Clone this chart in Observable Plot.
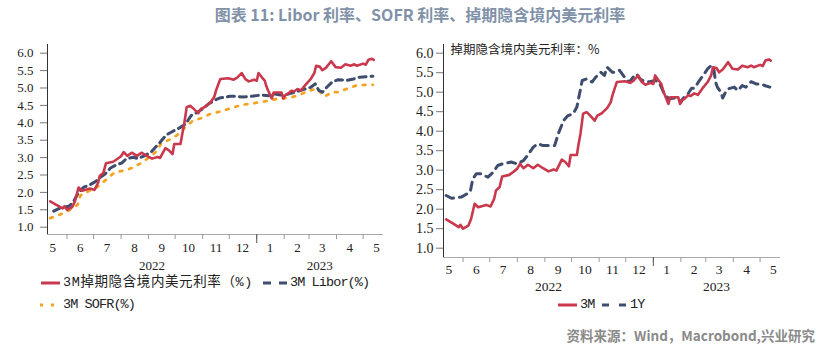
<!DOCTYPE html>
<html><head><meta charset="utf-8">
<script src="https://cdn.jsdelivr.net/npm/d3@7"></script>
<script src="https://cdn.jsdelivr.net/npm/@observablehq/plot@0.6"></script>
<style>
body{margin:0;background:#fff;}
#root{position:relative;width:820px;height:355px;overflow:hidden;font-family:"Noto Sans CJK SC",sans-serif;background:#fff;}
.abs{position:absolute;white-space:nowrap;}
.leg{font-family:"Liberation Mono","Noto Sans CJK SC",monospace;font-size:13.5px;color:#222;line-height:20px;letter-spacing:-0.9px;}
#left,#right{position:absolute;top:0;}
#left{left:0;} #right{left:400px;}
</style></head><body><div id="root">
<div id="left"></div><div id="right"></div>
<div class="abs" style="left:10px;width:820px;top:4px;text-align:center;font-size:16px;line-height:20px;font-weight:bold;color:#8091a8;">图表 11: Libor 利率、SOFR 利率、掉期隐含境内美元利率</div>
<svg class="abs" style="left:0;top:270px" width="400" height="50">
  <line x1="41" x2="60" y1="13" y2="13" stroke="#c9384c" stroke-width="3"/>
  <line x1="263" x2="288" y1="13" y2="13" stroke="#3e4c6d" stroke-width="3" stroke-dasharray="8 8"/>
  <line x1="40" x2="54" y1="35" y2="35" stroke="#f5a21e" stroke-width="3" stroke-dasharray="3 8"/>
</svg>
<div class="abs leg" style="left:63px;top:273px;letter-spacing:0.6px;">3M掉期隐含境内美元利率（%)</div>
<div class="abs leg" style="left:290px;top:273px;">3M Libor(%)</div>
<div class="abs leg" style="left:63px;top:295px;">3M SOFR(%)</div>
<svg class="abs" style="left:550px;top:295px" width="100" height="20">
  <line x1="8" x2="27" y1="10" y2="10" stroke="#c9384c" stroke-width="3"/>
  <line x1="52" x2="78" y1="10" y2="10" stroke="#3e4c6d" stroke-width="3" stroke-dasharray="7 10"/>
</svg>
<div class="abs leg" style="left:580px;top:295px;">3M</div>
<div class="abs leg" style="left:630px;top:295px;">1Y</div>
<div class="abs" style="right:5px;top:325px;font-size:13.5px;line-height:20px;color:#8a8a8a;font-weight:bold;">资料来源：Wind，Macrobond,兴业研究</div>
</div>
<script>
// ---------- data ----------
const swapDates = ["2022-05-13","2022-05-21","2022-05-27","2022-05-29","2022-06-01","2022-06-07","2022-06-10","2022-06-14","2022-06-18","2022-06-27","2022-07-02","2022-07-06","2022-07-08","2022-07-12","2022-07-15","2022-07-23","2022-07-26","2022-08-01","2022-08-04","2022-08-08","2022-08-13","2022-08-19","2022-08-24","2022-08-30","2022-09-05","2022-09-11","2022-09-14","2022-09-20","2022-09-24","2022-09-28","2022-09-30","2022-10-07","2022-10-09","2022-10-11","2022-10-14","2022-10-18","2022-10-22","2022-10-27","2022-10-30","2022-11-04","2022-11-10","2022-11-14","2022-11-16","2022-11-19","2022-11-21","2022-11-30","2022-12-06","2022-12-10","2022-12-15","2022-12-19","2022-12-23","2022-12-29","2023-01-01","2023-01-03","2023-01-07","2023-01-10","2023-01-12","2023-01-14","2023-01-18","2023-01-20","2023-01-29","2023-01-31","2023-02-02","2023-02-05","2023-02-09","2023-02-12","2023-02-16","2023-02-20","2023-02-25","2023-03-03","2023-03-07","2023-03-09","2023-03-13","2023-03-16","2023-03-20","2023-03-26","2023-03-31","2023-04-06","2023-04-11","2023-04-17","2023-04-21","2023-04-24","2023-05-01","2023-05-04","2023-05-07","2023-05-11","2023-05-13"];
const swap3M = [1.74,1.63,1.54,1.60,1.50,1.58,1.75,2.14,2.05,2.11,2.07,2.27,2.48,2.56,2.84,2.88,2.93,3.04,3.16,3.05,3.14,3.05,3.14,3.05,2.97,3.02,2.99,3.27,3.21,3.10,3.39,3.39,3.68,3.93,4.45,4.49,4.40,4.27,4.40,4.46,4.59,4.74,4.92,5.13,5.26,5.28,5.24,5.30,5.43,5.26,5.19,5.24,5.21,5.43,5.30,5.21,5.04,4.92,4.70,4.87,4.87,4.70,4.79,4.83,4.92,4.90,4.97,4.93,5.09,5.26,5.43,5.64,5.62,5.51,5.58,5.77,5.60,5.58,5.68,5.64,5.68,5.64,5.70,5.67,5.81,5.84,5.81];

const liborDates = ["2022-05-17","2022-05-24","2022-06-03","2022-06-08","2022-06-14","2022-06-20","2022-06-27","2022-07-03","2022-07-09","2022-07-14","2022-07-20","2022-07-25","2022-08-02","2022-08-07","2022-08-15","2022-08-20","2022-08-28","2022-09-04","2022-09-14","2022-09-21","2022-09-28","2022-10-07","2022-10-13","2022-10-19","2022-10-26","2022-11-01","2022-11-08","2022-11-14","2022-11-20","2022-12-02","2022-12-07","2022-12-16","2022-12-26","2023-01-06","2023-01-15","2023-01-21","2023-01-28","2023-02-06","2023-02-16","2023-02-23","2023-03-03","2023-03-08","2023-03-12","2023-03-16","2023-03-21","2023-03-27","2023-04-03","2023-04-13","2023-04-20","2023-04-27","2023-05-06","2023-05-12"];
const libor3M = [1.46,1.55,1.60,1.72,2.00,2.15,2.22,2.31,2.44,2.53,2.70,2.77,2.85,2.97,3.01,2.97,3.06,3.16,3.44,3.65,3.75,3.87,3.97,4.21,4.30,4.40,4.55,4.64,4.71,4.76,4.76,4.74,4.76,4.80,4.78,4.83,4.80,4.83,4.90,4.96,5.02,5.12,4.93,4.88,5.02,5.17,5.24,5.22,5.26,5.31,5.33,5.34];

const sofrDates = ["2022-05-13","2022-05-24","2022-06-03","2022-06-13","2022-06-16","2022-06-25","2022-07-05","2022-07-14","2022-07-25","2022-08-06","2022-08-15","2022-08-24","2022-09-03","2022-09-10","2022-09-15","2022-09-25","2022-10-03","2022-10-11","2022-10-20","2022-10-30","2022-11-10","2022-11-20","2022-12-03","2022-12-13","2022-12-24","2023-01-05","2023-01-15","2023-01-25","2023-02-06","2023-02-16","2023-02-27","2023-03-10","2023-03-17","2023-03-19","2023-03-27","2023-04-03","2023-04-13","2023-04-23","2023-05-03","2023-05-12"];
const sofr3M = [1.26,1.36,1.48,1.64,1.91,2.03,2.15,2.34,2.58,2.63,2.72,2.85,3.03,3.18,3.40,3.52,3.64,3.84,4.04,4.13,4.26,4.32,4.42,4.50,4.55,4.59,4.64,4.69,4.72,4.78,4.90,4.99,4.78,4.76,4.88,4.88,4.98,5.07,5.09,5.09];

const swap1YDates = ["2022-05-13","2022-05-19","2022-05-30","2022-06-09","2022-06-12","2022-06-16","2022-06-21","2022-06-29","2022-07-05","2022-07-10","2022-07-15","2022-07-25","2022-08-01","2022-08-08","2022-08-13","2022-08-19","2022-08-24","2022-08-30","2022-09-07","2022-09-12","2022-09-16","2022-09-22","2022-09-27","2022-10-03","2022-10-07","2022-10-10","2022-10-13","2022-10-18","2022-10-24","2022-10-28","2022-11-03","2022-11-07","2022-11-10","2022-11-16","2022-11-19","2022-11-24","2022-12-01","2022-12-05","2022-12-09","2022-12-13","2022-12-17","2022-12-23","2022-12-28","2023-01-03","2023-01-07","2023-01-10","2023-01-14","2023-01-19","2023-01-25","2023-01-29","2023-02-01","2023-02-03","2023-02-09","2023-02-13","2023-02-16","2023-02-21","2023-02-26","2023-03-03","2023-03-07","2023-03-10","2023-03-12","2023-03-14","2023-03-18","2023-03-20","2023-03-24","2023-03-27","2023-04-02","2023-04-06","2023-04-11","2023-04-15","2023-04-21","2023-04-27","2023-05-03","2023-05-06","2023-05-12"];
const swap1Y = [2.35,2.28,2.31,2.44,2.78,2.91,2.91,2.82,2.95,3.12,3.16,3.21,3.16,3.25,3.39,3.59,3.68,3.63,3.63,3.63,3.93,4.27,4.40,4.45,4.62,4.96,5.30,5.34,5.26,5.38,5.51,5.43,5.64,5.51,5.51,5.56,5.34,5.26,5.38,5.47,5.34,5.26,5.27,5.30,5.26,5.13,4.92,4.83,4.85,4.83,4.74,4.83,4.96,5.10,5.10,5.27,5.43,5.60,5.68,5.60,5.26,5.13,5.00,4.85,5.04,5.09,5.13,5.04,5.17,5.13,5.27,5.21,5.21,5.17,5.13];

const yTicks = [1.0,1.5,2.0,2.5,3.0,3.5,4.0,4.5,5.0,5.5,6.0];
const monthTickDates = ["2022-06-01","2022-07-01","2022-08-01","2022-09-01","2022-10-01","2022-11-01","2022-12-01","2023-01-01","2023-02-01","2023-03-01","2023-04-01","2023-05-01"];
const monthLabelDates = ["2022-05-16","2022-06-16","2022-07-16","2022-08-16","2022-09-16","2022-10-16","2022-11-16","2022-12-16","2023-01-16","2023-02-16","2023-03-16","2023-04-16","2023-05-16"];
const monthLabels = ["5","6","7","8","9","10","11","12","1","2","3","4","5"];
const yearBoundary = ["2023-01-01"];
const yearLabelDates = ["2022-09-05","2023-03-13"];
const yearLabels = ["2022","2023"];
const xDomainDates = ["2022-05-10","2023-05-24"];
const rightNote = "掉期隐含境内美元利率：%";

// ---------- build ----------
const parse = d3.utcParse("%Y-%m-%d");
const series = (ds, vs) => ds.map((d, i) => ({date: parse(d), value: vs[i]}));
const swapData = series(swapDates, swap3M);
const liborData = series(liborDates, libor3M);
const sofrData = series(sofrDates, sofr3M);
const y1Data = series(swap1YDates, swap1Y);
const xDomain = xDomainDates.map(parse);
const mLabelMap = new Map(monthLabelDates.map((d, i) => [+parse(d), monthLabels[i]]));
const yLabelMap = new Map(yearLabelDates.map((d, i) => [+parse(d), yearLabels[i]]));

const RED = "#c9384c", NAVY = "#3e4c6d", ORANGE = "#f5a21e";
const SERIF = "'Liberation Serif', 'Times New Roman', serif";

function xAxes(monthPad, yearPad, fs) {
  return [
    Plot.axisX({ticks: monthTickDates.map(parse), tickSize: 5, tickFormat: () => "", stroke: "#999", label: null}),
    Plot.axisX({ticks: yearBoundary.map(parse), tickSize: 9, tickFormat: () => "", stroke: "#555", label: null}),
    Plot.axisX({ticks: monthLabelDates.map(parse), tickSize: 0, tickPadding: monthPad, tickFormat: d => mLabelMap.get(+d), fill: "#222", fontSize: fs, fontFamily: SERIF, label: null}),
    Plot.axisX({ticks: yearLabelDates.map(parse), tickSize: 0, tickPadding: yearPad, tickFormat: d => yLabelMap.get(+d), fill: "#222", fontSize: fs, fontFamily: SERIF, label: null})
  ];
}

const left = Plot.plot({
  width: 400, height: 276,
  marginLeft: 47, marginRight: 17, marginTop: 44, marginBottom: 42,
  x: {type: "utc", domain: xDomain, axis: null},
  y: {domain: [0.79, 6.25], axis: null},
  style: {fontFamily: SERIF, fontSize: "13px", color: "#222", background: "transparent"},
  marks: [
    Plot.ruleY([0.79], {stroke: "#aaa"}),
    Plot.ruleX([xDomain[0]], {stroke: "#333"}),
    Plot.axisY({ticks: yTicks, tickSize: 7, tickPadding: 7, tickFormat: d => d.toFixed(1), stroke: "#777", fill: "#222", fontSize: 13, fontFamily: SERIF, label: null}),
    ...xAxes(8.5, 26.5, 13),
    Plot.line(sofrData, {x: "date", y: "value", stroke: ORANGE, strokeWidth: 2.7, strokeDasharray: "2.7 7"}),
    Plot.line(liborData, {x: "date", y: "value", stroke: NAVY, strokeWidth: 3, strokeDasharray: "7 5"}),
    Plot.line(swapData, {x: "date", y: "value", stroke: RED, strokeWidth: 2.6})
  ]
});
document.getElementById("left").appendChild(left);

const right = Plot.plot({
  width: 420, height: 295,
  marginLeft: 43, marginRight: 40, marginTop: 44, marginBottom: 38,
  x: {type: "utc", domain: xDomain, axis: null},
  y: {domain: [0.761, 6.223], axis: null},
  style: {fontFamily: SERIF, fontSize: "13px", color: "#222", background: "transparent"},
  marks: [
    Plot.ruleY([0.761], {stroke: "#aaa"}),
    Plot.ruleX([xDomain[0]], {stroke: "#333"}),
    Plot.axisY({ticks: yTicks, tickSize: 7, tickPadding: 3, tickFormat: d => d.toFixed(1), stroke: "#777", fill: "#222", fontSize: 14, fontFamily: SERIF, label: null}),
    ...xAxes(6.5, 23.5, 13.5),
    Plot.text([rightNote], {frameAnchor: "top-left", dx: 7, dy: 1, lineAnchor: "top", fill: "#222", fontSize: 12.5, fontFamily: "'Noto Sans CJK SC', sans-serif", text: d => d}),
    Plot.line(y1Data, {x: "date", y: "value", stroke: NAVY, strokeWidth: 3, strokeDasharray: "8 6"}),
    Plot.line(swapData, {x: "date", y: "value", stroke: RED, strokeWidth: 2.6})
  ]
});
document.getElementById("right").appendChild(right);
</script>
</body></html>
